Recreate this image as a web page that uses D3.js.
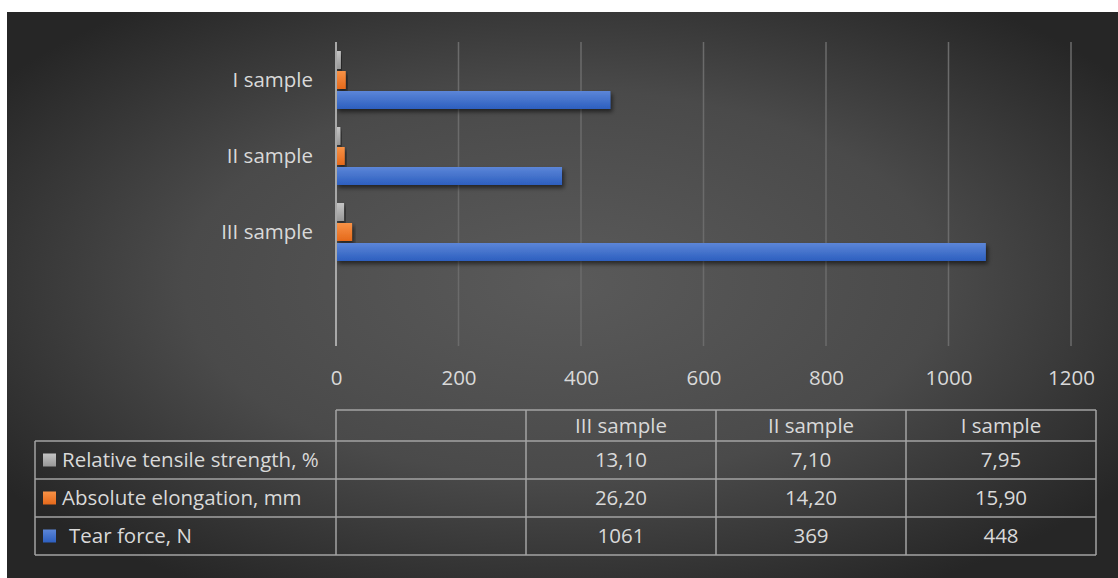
<!DOCTYPE html>
<html>
<head>
<meta charset="utf-8">
<script src="https://cdn.jsdelivr.net/npm/d3@7"></script>
<style>
  html, body { margin: 0; padding: 0; background: #ffffff; }
  svg { display: block; }
  text { font-family: "Open Sans", "Lato", sans-serif; fill: #d9d9d9; }
</style>
</head>
<body>
<svg id="chart" width="1118" height="578"></svg>
<script>
// Categories in data order (first category is drawn at the bottom)
const categories = ["", "III sample", "II sample", "I sample"];

// Series values per category (blank category has no data)
const seriesNames = ["Relative tensile strength, %", "Absolute elongation, mm", "Tear force, N"];
const relativeStrength = [null, 13.10, 7.10, 7.95];
const absoluteElongation = [null, 26.20, 14.20, 15.90];
const tearForce = [null, 1061, 369, 448];

const xTicks = [0, 200, 400, 600, 800, 1000, 1200];

const FS = 20.5;

const series = [
  { name: seriesNames[0], values: relativeStrength, fmt: v => d3.format(".2f")(v).replace(".", ","),
    top: "#c4c4c4", bottom: "#979797", key: "rel" },
  { name: seriesNames[1], values: absoluteElongation, fmt: v => d3.format(".2f")(v).replace(".", ","),
    top: "#f89246", bottom: "#e5691b", key: "abs" },
  { name: seriesNames[2], values: tearForce, fmt: v => d3.format("d")(v),
    top: "#5c86d8", bottom: "#2d5fbf", key: "tear" }
];

const svg = d3.select("#chart");
const defs = svg.append("defs");

// Background panel with radial shading
const bg = defs.append("radialGradient").attr("id", "bgGrad")
  .attr("cx", "50%").attr("cy", "48%").attr("r", "62%");
bg.append("stop").attr("offset", "0%").attr("stop-color", "#5a5a5a");
bg.append("stop").attr("offset", "55%").attr("stop-color", "#4a4a4a");
bg.append("stop").attr("offset", "100%").attr("stop-color", "#262626");

svg.append("rect").attr("x", 7).attr("y", 12).attr("width", 1111).attr("height", 566)
  .attr("fill", "url(#bgGrad)");

// Bar fills and shadow
series.forEach(s => {
  const g = defs.append("linearGradient").attr("id", "grad-" + s.key)
    .attr("x1", 0).attr("y1", 0).attr("x2", 0).attr("y2", 1);
  g.append("stop").attr("offset", "0%").attr("stop-color", s.top);
  g.append("stop").attr("offset", "100%").attr("stop-color", s.bottom);
});
const shadow = defs.append("filter").attr("id", "shadow")
  .attr("x", "-10%").attr("y", "-30%").attr("width", "130%").attr("height", "190%");
shadow.append("feDropShadow").attr("dx", 2).attr("dy", 3).attr("stdDeviation", 2.2)
  .attr("flood-color", "#000").attr("flood-opacity", 0.55);

// Scales
const plotTop = 42, plotBottom = 346;
const x = d3.scaleLinear().domain([0, 1200]).range([336, 1071]);
const y = d3.scaleBand().domain(categories.slice().reverse()).range([plotTop, plotBottom]);
const yInner = d3.scaleBand().domain(series.map(s => s.key))
  .range([9, y.bandwidth() - 9]).paddingInner(0.1);

// Vertical gridlines
svg.append("g").selectAll("line").data(xTicks.filter(t => t > 0)).join("line")
  .attr("x1", d => x(d)).attr("x2", d => x(d))
  .attr("y1", plotTop).attr("y2", plotBottom)
  .attr("stroke", "#6b6b6b").attr("stroke-width", 1.5);

// Bars
const groups = svg.append("g").selectAll("g").data(categories).join("g")
  .attr("transform", d => `translate(0,${y(d)})`);
series.forEach(s => {
  groups.filter((d, i) => s.values[i] != null)
    .append("rect")
    .attr("x", x(0))
    .attr("y", yInner(s.key))
    .attr("height", yInner.bandwidth())
    .attr("width", d => x(s.values[categories.indexOf(d)]) - x(0))
    .attr("fill", `url(#grad-${s.key})`)
    .attr("filter", "url(#shadow)");
});

// Category axis line
svg.append("line").attr("x1", x(0)).attr("x2", x(0))
  .attr("y1", plotTop).attr("y2", plotBottom)
  .attr("stroke", "#a8a8a8").attr("stroke-width", 2);

// Category labels
const yAxis = d3.axisLeft(y).tickSize(0).tickPadding(23);
const yAxisG = svg.append("g").attr("transform", `translate(${x(0)},0)`).call(yAxis);
yAxisG.select(".domain").remove();
yAxisG.selectAll("text").attr("font-size", FS).style("fill", "#d9d9d9")
  .attr("font-family", "Open Sans");

// Value axis tick labels
const xAxis = d3.axisBottom(x).tickValues(xTicks).tickFormat(d3.format("d")).tickSize(0);
const xAxisG = svg.append("g").attr("transform", `translate(0,${plotBottom})`).call(xAxis);
xAxisG.select(".domain").remove();
xAxisG.selectAll("text").attr("font-size", FS).attr("y", 32).attr("dy", "0.35em")
  .style("fill", "#d9d9d9").attr("font-family", "Open Sans");

// Data table
const tableLeft = 35, headerTop = 410, headerBottom = 441, rowH = 38;
const colX = d3.scaleBand().domain(categories).range([336, 1096]);
const tableRight = 1096;
const tableBottom = headerBottom + rowH * series.length;
const lineColor = "#a3a3a3";
const tg = svg.append("g").attr("stroke", lineColor).attr("stroke-width", 1.5).attr("fill", "none");

// header box over category columns
tg.append("line").attr("x1", 336).attr("x2", tableRight).attr("y1", headerTop).attr("y2", headerTop);
// horizontal row lines
d3.range(series.length + 1).forEach(i => {
  const yy = headerBottom + i * rowH;
  tg.append("line").attr("x1", tableLeft).attr("x2", tableRight).attr("y1", yy).attr("y2", yy);
});
// vertical lines
tg.append("line").attr("x1", tableLeft).attr("x2", tableLeft).attr("y1", headerBottom).attr("y2", tableBottom);
categories.forEach(c => {
  tg.append("line").attr("x1", colX(c)).attr("x2", colX(c)).attr("y1", headerTop).attr("y2", tableBottom);
});
tg.append("line").attr("x1", tableRight).attr("x2", tableRight).attr("y1", headerTop).attr("y2", tableBottom);

// header labels
svg.append("g").selectAll("text").data(categories).join("text")
  .attr("x", d => colX(d) + colX.bandwidth() / 2)
  .attr("y", (headerTop + headerBottom) / 2)
  .attr("dy", "0.35em").attr("text-anchor", "middle").attr("font-size", FS)
  .text(d => d);

// rows: legend key + values
series.forEach((s, r) => {
  const cy = headerBottom + r * rowH + rowH / 2;
  svg.append("rect").attr("x", 43).attr("y", cy - 6.5).attr("width", 13).attr("height", 13)
    .attr("fill", `url(#grad-${s.key})`);
  svg.append("text").attr("x", r === 2 ? 69 : 62).attr("y", cy).attr("dy", "0.35em")
    .attr("font-size", FS).text(s.name);
  svg.append("g").selectAll("text").data(categories).join("text")
    .attr("x", d => colX(d) + colX.bandwidth() / 2)
    .attr("y", cy).attr("dy", "0.35em").attr("text-anchor", "middle").attr("font-size", FS)
    .text((d, i) => s.values[i] == null ? "" : s.fmt(s.values[i]));
});
</script>
</body>
</html>
